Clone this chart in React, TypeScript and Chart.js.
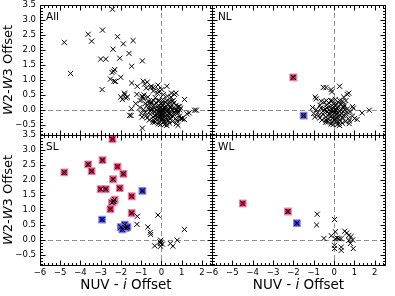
import React, { useEffect, useRef } from 'react';
import { Chart, registerables } from 'chart.js';
Chart.register(...registerables);

type P = [number, number];

const X_MIN = -6;
const X_MAX = 2.5;
const Y_MIN = -0.85;
const Y_MAX = 3.5;

// ---- SL panel ----
const slRed: P[] = [
  [-2.42, 3.36], [-3.33, 3.58], [-4.8, 2.25], [-3.62, 2.52], [-3.45, 2.29], [-2.91, 2.66],
  [-2.17, 2.44], [-1.88, 2.2], [-2.39, 2.02], [-3.0, 1.69], [-2.75, 1.69], [-2.06, 1.72],
  [-1.47, 1.45], [-2.31, 1.34], [-2.44, 1.24], [-2.36, 1.28], [-2.52, 1.02], [-1.47, 0.89],
];
const slBlue: P[] = [
  [-0.94, 1.63], [-2.93, 0.67], [-2.01, 0.42], [-1.81, 0.5], [-1.76, 0.39], [-1.93, 0.34], [-1.68, 0.42],
];
const slOther: P[] = [
  [-1.19, 0.78], [-1.21, 0.51], [-0.17, 0.82], [-0.67, 0.42], [-0.55, 0.24], [-0.53, 0.17],
  [1.14, 0.34], [-0.04, -0.02], [-0.05, -0.13], [-0.04, -0.22], [-0.06, -0.08], [-0.33, -0.21],
  [0.44, -0.13], [0.57, -0.22], [0.78, -0.02], [0.05, -0.15],
];

// ---- WL panel ----
const wlRed: P[] = [[-4.49, 1.21], [-2.27, 0.94]];
const wlBlue: P[] = [[-1.83, 0.55]];
const wlOther: P[] = [
  [-0.83, 0.85], [-0.86, 0.49], [0.02, 0.67], [-0.5, 0.04], [0.06, 0.26], [-0.14, 0.13],
  [0.06, 0.03], [0.23, 0.03], [0.34, 0.03], [0.52, 0.28], [0.72, 0.14], [0.83, 0.1],
  [0.91, -0.01], [0.72, -0.03], [0.02, -0.19], [0.02, -0.3], [0.35, -0.25], [0.35, -0.36],
  [0.8, -0.13], [0.94, -0.3], [0.62, 0.22], [0.15, 0.05],
];

// ---- NL panel ----
const nlRed: P[] = [[-2.01, 1.08]];
const nlBlue: P[] = [[-1.5, -0.2]];
const nlOther: P[] = [
  [-0.53, 0.74], [-0.4, 0.74], [-0.15, 0.67], [-0.12, 0.59], [0.27, 0.78], [0.64, 0.51],
  [0.72, 0.55], [0.47, 0.42], [-0.93, 0.42], [-0.88, 0.36], [-0.63, 0.28], [-0.38, 0.3],
  [-0.17, 0.3], [0.4, 0.28], [0.43, 0.08], [0.9, 0.1], [-1.06, 0.07], [1.37, -0.11],
  [1.73, -0.02], [1.13, -0.33], [0.26, -0.53], [-0.41, -0.42], [0.74, -0.47], [-1.0, -0.13],
  [-0.75, -0.2],
  [-0.02, -0.12], [0.05, -0.08], [-0.08, -0.18], [0.12, -0.15], [-0.15, -0.05], [0.18, -0.22],
  [-0.22, -0.14], [0.25, -0.06], [-0.3, -0.2], [0.3, -0.18], [-0.05, -0.28], [0.08, -0.32],
  [-0.12, 0.02], [0.15, 0.05], [-0.35, -0.08], [0.38, -0.12], [-0.42, -0.25], [0.45, -0.28],
  [-0.5, -0.02], [0.52, 0.0], [0.0, 0.08], [-0.2, 0.1], [0.22, 0.12], [-0.28, -0.32],
  [0.28, -0.36], [-0.55, -0.15], [0.6, -0.15], [-0.65, 0.05], [0.65, 0.02], [-0.7, -0.28],
  [0.7, -0.3], [-0.1, -0.4], [0.12, -0.42], [-0.38, 0.15], [0.35, 0.18], [0.02, -0.22],
  [-0.04, -0.05], [0.1, -0.02], [-0.18, -0.24], [0.2, -0.3], [-0.45, 0.02], [0.48, 0.08],
  [-0.6, -0.35], [0.55, -0.4], [-0.8, -0.1], [0.8, -0.08], [-0.25, 0.22], [0.18, 0.25],
  [-0.02, 0.18], [0.0, -0.35], [-0.32, -0.42], [0.4, -0.45], [0.9, -0.22], [-0.88, 0.0],
  [0.75, -0.38], [-0.15, -0.48], [0.28, 0.3], [-0.48, 0.25], [0.58, 0.3], [0.06, 0.34],
  [-0.7, 0.15], [0.95, 0.05], [1.0, -0.3], [-0.95, -0.25], [0.15, -0.5], [-0.05, -0.5],
  [0.35, -0.02], [-0.35, 0.05], [0.08, 0.15], [-0.1, 0.3], [0.45, -0.2], [-0.55, -0.05],
  [0.62, -0.08], [-0.25, -0.02], [0.25, -0.45], [0.02, 0.0], [-0.08, -0.3], [0.18, -0.12],
  [-0.4, -0.35], [0.5, 0.15],
];

// ---- All panel: extra (unclassified) sources ----
const allExtra: P[] = [
  [-1.4, 2.31], [-1.6, 1.88], [-2.34, 0.95], [-0.9, 0.95], [-0.7, 0.92], [-0.75, 0.72],
  [-0.5, 0.78], [-0.4, 0.62], [-0.95, 0.45], [-0.2, 0.55], [-1.05, 0.3], [-0.8, 0.2],
  [-1.27, 0.2], [-1.48, 0.03], [-1.57, -0.19], [-0.94, -0.62], [1.64, -0.02], [1.26, -0.14],
  [1.03, -0.3], [0.82, -0.53], [0.5, 0.55], [0.3, 0.45], [-0.3, 0.4], [0.1, 0.5],
];

const allPoints: P[] = [
  ...slRed, ...slBlue, ...slOther, ...wlRed, ...wlBlue, ...wlOther,
  ...nlRed, ...nlBlue, ...nlOther, ...allExtra,
];

type PanelCfg = {
  label: string;
  pad: { left: number; top: number; right: number; bottom: number };
  showX: boolean;
  showY: boolean;
  black: P[];
  red: P[];
  blue: P[];
};

const FONT = '"DejaVu Sans", "Liberation Sans", sans-serif';

const panels: PanelCfg[] = [
  { label: 'All', pad: { left: 0, top: 5, right: 183, bottom: 161 }, showX: false, showY: true,
    black: allPoints, red: [], blue: [] },
  { label: 'NL', pad: { left: 212, top: 5, right: 10, bottom: 161 }, showX: false, showY: false,
    black: [...nlOther, ...nlRed, ...nlBlue], red: nlRed, blue: nlBlue },
  { label: 'SL', pad: { left: 0, top: 135, right: 183, bottom: 0 }, showX: true, showY: true,
    black: [...slOther, ...slRed, ...slBlue], red: slRed, blue: slBlue },
  { label: 'WL', pad: { left: 212, top: 135, right: 10, bottom: 0 }, showX: true, showY: false,
    black: [...wlOther, ...wlRed, ...wlBlue], red: wlRed, blue: wlBlue },
];

const toXY = (arr: P[]) => arr.map(([x, y]) => ({ x, y }));
const minus = (s: string) => s.replace('-', '\u2212');

function drawMixed(ctx: CanvasRenderingContext2D, parts: [string, boolean][], size: number, cx: number, cy: number) {
  const fontFor = (it: boolean) => `${it ? 'italic ' : ''}${size}px ${FONT}`;
  let total = 0;
  for (const [t, it] of parts) { ctx.font = fontFor(it); total += ctx.measureText(t).width; }
  let x = cx - total / 2;
  ctx.textAlign = 'left';
  ctx.textBaseline = 'middle';
  for (const [t, it] of parts) {
    ctx.font = fontFor(it);
    ctx.fillText(t, x, cy);
    x += ctx.measureText(t).width;
  }
}

function makeDecor(cfg: PanelCfg) {
  return {
    id: 'decor',
    beforeDatasetsDraw(chart: any) {
      const { ctx, chartArea: a, scales } = chart;
      const x0 = Math.round(scales.x.getPixelForValue(0)) + 0.5;
      const y0 = Math.round(scales.y.getPixelForValue(0)) + 0.5;
      ctx.save();
      ctx.strokeStyle = '#8f8f8f';
      ctx.lineWidth = 1;
      ctx.setLineDash([5, 3]);
      ctx.beginPath();
      ctx.moveTo(x0, a.top); ctx.lineTo(x0, a.bottom);
      ctx.moveTo(a.left, y0); ctx.lineTo(a.right, y0);
      ctx.stroke();
      ctx.restore();
    },
    afterDatasetsDraw(chart: any) {
      const { ctx, chartArea: a, scales } = chart;
      const L = Math.round(a.left) + 0.5, R = Math.round(a.right) + 0.5;
      const T = Math.round(a.top) + 0.5, B = Math.round(a.bottom) + 0.5;
      ctx.save();
      ctx.strokeStyle = '#000';
      ctx.lineWidth = 1;
      ctx.beginPath();
      // x ticks: major every 1, minor every 0.2
      for (let k = -30; k <= 12; k++) {
        const v = k / 5;
        if (v < X_MIN || v > X_MAX) continue;
        const len = k % 5 === 0 ? 5 : 2.5;
        const px = Math.round(scales.x.getPixelForValue(v)) + 0.5;
        ctx.moveTo(px, B); ctx.lineTo(px, B - len);
        ctx.moveTo(px, T); ctx.lineTo(px, T + len);
      }
      // y ticks: major every 0.5, minor every 0.1
      for (let k = -8; k <= 35; k++) {
        const v = k / 10;
        if (v < Y_MIN || v > Y_MAX) continue;
        const len = k % 5 === 0 ? 5 : 2.5;
        const py = Math.round(scales.y.getPixelForValue(v)) + 0.5;
        ctx.moveTo(L, py); ctx.lineTo(L + len, py);
        ctx.moveTo(R, py); ctx.lineTo(R - len, py);
      }
      ctx.stroke();
      ctx.strokeRect(L, T, R - L, B - T);
      ctx.fillStyle = '#000';
      ctx.font = `10.5px ${FONT}`;
      ctx.textAlign = 'left';
      ctx.textBaseline = 'middle';
      ctx.fillText(cfg.label, a.left + 6, a.top + 12);
      ctx.restore();
    },
    afterDraw(chart: any) {
      const { ctx, chartArea: a } = chart;
      ctx.save();
      ctx.fillStyle = '#000';
      if (cfg.showY) {
        ctx.save();
        ctx.translate(9, (a.top + a.bottom) / 2);
        ctx.rotate(-Math.PI / 2);
        drawMixed(ctx, [['W', true], ['2-', false], ['W', true], ['3 Offset', false]], 13, 0, 0);
        ctx.restore();
      }
      if (cfg.showX) {
        drawMixed(ctx, [['NUV - ', false], ['i', true], [' Offset', false]], 13.5, (a.left + a.right) / 2, 285);
      }
      ctx.restore();
    },
  };
}

function Panel({ cfg }: { cfg: PanelCfg }) {
  const ref = useRef<HTMLCanvasElement>(null);
  useEffect(() => {
    const tickFont = { family: FONT, size: 8.5 };
    const chart = new Chart(ref.current as HTMLCanvasElement, {
      type: 'scatter',
      data: {
        datasets: [
          {
            label: 'sources',
            data: toXY(cfg.black),
            pointStyle: 'crossRot',
            pointRadius: 3.6,
            borderColor: '#000',
            backgroundColor: 'rgba(0,0,0,0)',
            borderWidth: 1,
            order: 0,
            clip: 0,
          } as any,
          {
            label: 'red',
            data: toXY(cfg.red),
            pointStyle: 'rect',
            pointRadius: 4.6,
            backgroundColor: '#cc1848',
            borderColor: 'rgba(235,125,165,0.9)',
            borderWidth: 1.3,
            order: 1,
            clip: 0,
          } as any,
          {
            label: 'blue',
            data: toXY(cfg.blue),
            pointStyle: 'rect',
            pointRadius: 4.6,
            backgroundColor: '#2b2bd6',
            borderColor: 'rgba(130,130,240,0.9)',
            borderWidth: 1.3,
            order: 2,
            clip: 0,
          } as any,
        ],
      },
      options: {
        responsive: false,
        animation: false,
        devicePixelRatio: 1,
        events: [],
        layout: { padding: cfg.pad, autoPadding: false },
        plugins: { legend: { display: false }, tooltip: { enabled: false } },
        scales: {
          x: {
            type: 'linear',
            min: X_MIN,
            max: X_MAX,
            display: cfg.showX,
            grid: { display: false, drawTicks: false },
            border: { display: false },
            ticks: {
              stepSize: 1,
              includeBounds: false,
              autoSkip: false,
              maxRotation: 0,
              padding: 3,
              color: '#000',
              font: tickFont,
              callback: (v: any) => minus(String(v)),
            },
            afterFit: (s: any) => {
              s.height = cfg.showX ? 31 : 0;
              s.paddingLeft = 0; s.paddingRight = 0; s.paddingTop = 0; s.paddingBottom = 0;
            },
          },
          y: {
            type: 'linear',
            min: Y_MIN,
            max: Y_MAX,
            display: cfg.showY,
            grid: { display: false, drawTicks: false },
            border: { display: false },
            ticks: {
              stepSize: 0.5,
              includeBounds: false,
              autoSkip: false,
              padding: 4,
              color: '#000',
              font: tickFont,
              callback: (v: any) => minus(Number(v).toFixed(1)),
            },
            afterFit: (s: any) => {
              s.width = cfg.showY ? 40 : 0;
              s.paddingLeft = 0; s.paddingRight = 0; s.paddingTop = 0; s.paddingBottom = 0;
            },
          },
        },
      } as any,
      plugins: [makeDecor(cfg)],
    });
    return () => chart.destroy();
  }, [cfg]);
  return (
    <canvas
      ref={ref}
      width={395}
      height={296}
      style={{ position: 'absolute', left: 0, top: 0, width: 395, height: 296 }}
    />
  );
}

export default function App() {
  return (
    <div style={{ position: 'fixed', left: 0, top: 0, width: 395, height: 296, background: '#fff' }}>
      {panels.map((p) => (
        <Panel key={p.label} cfg={p} />
      ))}
    </div>
  );
}
